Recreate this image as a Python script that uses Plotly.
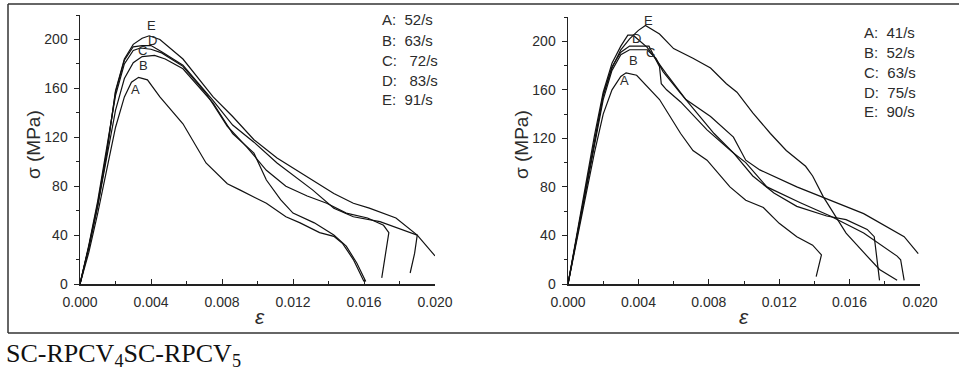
import plotly.graph_objects as go

W, H = 959, 382

# ---------------- Left panel (SC-RPCV4) ----------------
L_A_eps = [0, 0.0005, 0.001, 0.0015, 0.002, 0.0025, 0.0029, 0.0033, 0.0038, 0.0045, 0.0058, 0.0071, 0.0083, 0.0090, 0.0105, 0.0116, 0.0124, 0.0135, 0.0143, 0.0148, 0.0154, 0.0160]
L_A_sig = [0, 26, 58, 94, 128, 153, 165, 169, 167, 153, 131, 99, 82, 77, 66, 55, 50, 42, 39, 33, 20, 2]
L_B_eps = [0, 0.0005, 0.001, 0.0015, 0.002, 0.0025, 0.003, 0.0035, 0.0042, 0.0048, 0.0058, 0.0075, 0.0086, 0.0098, 0.0105, 0.0113, 0.0120, 0.0132, 0.0143, 0.0150, 0.0156, 0.0161]
L_B_sig = [0, 30, 64, 104, 142, 168, 181, 186, 187, 184, 176, 148, 123, 107, 85, 69, 58, 50, 40, 31, 17, 2]
L_C_eps = [0, 0.0005, 0.001, 0.0015, 0.002, 0.0025, 0.003, 0.0034, 0.0040, 0.0046, 0.0058, 0.0071, 0.0083, 0.0094, 0.0105, 0.0116, 0.0128, 0.0139, 0.0150, 0.0162, 0.0171, 0.0174, 0.0170]
L_C_sig = [0, 32, 68, 110, 154, 180, 191, 193, 192, 189, 178, 156, 129, 112, 93, 80, 72, 66, 58, 54, 48, 42, 5]
L_D_eps = [0, 0.0005, 0.001, 0.0015, 0.002, 0.0025, 0.003, 0.0035, 0.0040, 0.0046, 0.0058, 0.0075, 0.0086, 0.0098, 0.0111, 0.0124, 0.0131, 0.0143, 0.0154, 0.0169, 0.0190, 0.01885, 0.0186]
L_D_sig = [0, 31, 66, 108, 157, 183, 194, 195, 195, 190, 179, 150, 130, 116, 99, 85, 77, 62, 55, 51, 40, 25, 9]
L_E_eps = [0, 0.0005, 0.001, 0.0015, 0.002, 0.0025, 0.003, 0.0035, 0.0039, 0.0045, 0.0058, 0.0075, 0.0086, 0.0098, 0.0111, 0.0124, 0.0135, 0.0143, 0.0154, 0.0163, 0.0178, 0.0190, 0.0200]
L_E_sig = [0, 30, 64, 106, 158, 184, 196, 201, 203, 200, 184, 153, 137, 118, 103, 91, 81, 74, 66, 62, 54, 40, 23]

# ---------------- Right panel (SC-RPCV5) ----------------
R_A_eps = [0, 0.0005, 0.001, 0.0015, 0.002, 0.0025, 0.003, 0.0033, 0.0039, 0.0052, 0.0064, 0.0071, 0.0079, 0.0092, 0.0101, 0.0111, 0.0120, 0.0130, 0.0139, 0.0144, 0.0141]
R_A_sig = [0, 36, 72, 108, 140, 160, 171, 174, 172, 152, 124, 110, 102, 80, 69, 63, 50, 39, 32, 24, 6]
R_B_eps = [0, 0.0005, 0.001, 0.0015, 0.002, 0.0025, 0.003, 0.0035, 0.0045, 0.0050, 0.0054, 0.0064, 0.0073, 0.0083, 0.0094, 0.0105, 0.0117, 0.0130, 0.0147, 0.0158, 0.0170, 0.0174, 0.0177]
R_B_sig = [0, 38, 76, 116, 152, 176, 189, 193, 193, 186, 175, 157, 141, 124, 108, 89, 75, 64, 56, 53, 45, 39, 3]
R_C_eps = [0, 0.0005, 0.001, 0.0015, 0.002, 0.0025, 0.003, 0.0035, 0.0046, 0.0052, 0.0053, 0.0056, 0.0064, 0.0079, 0.0094, 0.0101, 0.0113, 0.0132, 0.0149, 0.0168, 0.0187, 0.0189, 0.0191]
R_C_sig = [0, 39, 79, 120, 156, 179, 191, 196, 196, 179, 165, 160, 150, 127, 108, 100, 80, 67, 56, 42, 23, 20, 3]
R_D_eps = [0, 0.0005, 0.001, 0.0015, 0.002, 0.0025, 0.003, 0.0034, 0.0037, 0.0045, 0.0056, 0.0067, 0.0081, 0.0094, 0.0101, 0.0109, 0.0130, 0.0149, 0.0168, 0.0191, 0.0199]
R_D_sig = [0, 40, 81, 122, 158, 182, 196, 205, 205, 195, 173, 152, 138, 121, 102, 94, 80, 69, 58, 39, 25]
R_E_eps = [0, 0.0005, 0.001, 0.0015, 0.002, 0.0025, 0.003, 0.0035, 0.0040, 0.0044, 0.0052, 0.0060, 0.0071, 0.0081, 0.0090, 0.0096, 0.0105, 0.0115, 0.0124, 0.0135, 0.0139, 0.0145, 0.0151, 0.0158, 0.0168, 0.0177, 0.0187]
R_E_sig = [0, 39, 78, 119, 155, 178, 193, 202, 209, 213, 206, 194, 186, 178, 165, 158, 141, 124, 110, 97, 89, 72, 58, 42, 26, 12, 3]

left_legend = ["A:\u00a0 52/s", "B:\u00a0 63/s", "C:\u00a0\u00a0 72/s", "D:\u00a0\u00a0 83/s", "E:\u00a0 91/s"]
right_legend = ["A:\u00a0 41/s", "B:\u00a0 52/s", "C:\u00a0 63/s", "D:\u00a0 75/s", "E:\u00a0 90/s"]
curve_letters = ["A", "B", "C", "D", "E"]
left_letter_pos = [(0.0031, 159), (0.0036, 179), (0.0035, 191), (0.0041, 199), (0.0040, 211)]
right_letter_pos = [(0.0032, 168), (0.0037, 184), (0.0047, 191), (0.0039, 202), (0.0046, 217)]
x_ticks = [0.000, 0.004, 0.008, 0.012, 0.016, 0.020]
y_ticks = [0, 40, 80, 120, 160, 200]
caption = "SC-RPCV<sub>4</sub>SC-RPCV<sub>5</sub>"

FONT = "Arial, Liberation Sans, sans-serif"
TXT = "#2b2b2b"

fig = go.Figure()
left = [(L_A_eps, L_A_sig), (L_B_eps, L_B_sig), (L_C_eps, L_C_sig), (L_D_eps, L_D_sig), (L_E_eps, L_E_sig)]
right = [(R_A_eps, R_A_sig), (R_B_eps, R_B_sig), (R_C_eps, R_C_sig), (R_D_eps, R_D_sig), (R_E_eps, R_E_sig)]
for ex, sy in left:
    fig.add_trace(go.Scatter(x=ex, y=sy, mode="lines", line=dict(color="#111", width=1.2),
                             xaxis="x", yaxis="y", hoverinfo="skip"))
for ex, sy in right:
    fig.add_trace(go.Scatter(x=ex, y=sy, mode="lines", line=dict(color="#111", width=1.2),
                             xaxis="x2", yaxis="y2", hoverinfo="skip"))

def px_x(p):
    return p / W

def px_y(p):
    return 1 - p / H

xcommon = dict(range=[0, 0.020], tickvals=x_ticks, tickformat=".3f", showline=True,
               linecolor="#222", linewidth=1.5, ticks="inside", ticklen=5, tickcolor="#222",
               showgrid=False, zeroline=False, tickfont=dict(family=FONT, size=14, color=TXT),
               ticklabelstandoff=5,
               minor=dict(dtick=0.002, tick0=0, ticks="inside", ticklen=3, tickcolor="#222"),
               automargin=False, fixedrange=True)
ycommon = dict(range=[0, 220], tickvals=y_ticks, showline=True, linecolor="#222", linewidth=1.5,
               ticks="outside", ticklen=5, tickcolor="#222", showgrid=False, zeroline=False,
               tickfont=dict(family=FONT, size=14, color=TXT), ticklabelstandoff=3,
               minor=dict(dtick=20, tick0=0, ticks="outside", ticklen=3, tickcolor="#222"),
               automargin=False, fixedrange=True)

fig.update_layout(
    template="none",
    width=W, height=H, autosize=False,
    margin=dict(l=0, r=0, t=0, b=0, pad=0, autoexpand=False),
    paper_bgcolor="white", plot_bgcolor="white", showlegend=False,
    xaxis=dict(domain=[px_x(80), px_x(435)], anchor="y", **xcommon),
    yaxis=dict(domain=[px_y(284), px_y(15)], anchor="x", **ycommon),
    xaxis2=dict(domain=[px_x(568), px_x(920)], anchor="y2", **xcommon),
    yaxis2=dict(domain=[px_y(284), px_y(17)], anchor="x2", **ycommon),
)

ann = []
# legends
for i, t in enumerate(left_legend):
    ann.append(dict(x=px_x(380), y=px_y(20 + 20 * i), xref="paper", yref="paper", text=t,
                    showarrow=False, xanchor="left", yanchor="middle",
                    font=dict(family=FONT, size=15, color=TXT)))
for i, t in enumerate(right_legend):
    ann.append(dict(x=px_x(862), y=px_y(33 + 19.7 * i), xref="paper", yref="paper", text=t,
                    showarrow=False, xanchor="left", yanchor="middle",
                    font=dict(family=FONT, size=15, color=TXT)))
# curve letters
for (x, y), t in zip(left_letter_pos, curve_letters):
    ann.append(dict(x=x, y=y, xref="x", yref="y", text=t, showarrow=False,
                    xanchor="center", yanchor="middle",
                    font=dict(family=FONT, size=13, color=TXT)))
for (x, y), t in zip(right_letter_pos, curve_letters):
    ann.append(dict(x=x, y=y, xref="x2", yref="y2", text=t, showarrow=False,
                    xanchor="center", yanchor="middle",
                    font=dict(family=FONT, size=13, color=TXT)))
# axis titles
for xp in (33, 521):
    ann.append(dict(x=px_x(xp), y=px_y(145), xref="paper", yref="paper", text="σ (MPa)",
                    textangle=-90, showarrow=False, xanchor="center", yanchor="middle",
                    font=dict(family=FONT, size=19, color=TXT)))
for xp in (260, 744):
    ann.append(dict(x=px_x(xp), y=px_y(316), xref="paper", yref="paper", text="<i>ε</i>",
                    showarrow=False, xanchor="center", yanchor="middle",
                    font=dict(family=FONT, size=21, color=TXT)))
# caption
ann.append(dict(x=px_x(4), y=px_y(355), xref="paper", yref="paper", text=caption,
                showarrow=False, xanchor="left", yanchor="middle",
                font=dict(family="Liberation Serif, Times New Roman, serif", size=26, color="#111")))
fig.update_layout(annotations=ann)

# frame around the figure panels (kept inside the page)
frame = dict(color="#333", width=1.5)
fig.add_shape(type="line", xref="paper", yref="paper", x0=px_x(8), x1=1.0, y0=px_y(4), y1=px_y(4), line=frame)
fig.add_shape(type="line", xref="paper", yref="paper", x0=px_x(8), x1=1.0, y0=px_y(333), y1=px_y(333), line=frame)
fig.add_shape(type="line", xref="paper", yref="paper", x0=px_x(8), x1=px_x(8), y0=px_y(4), y1=px_y(333), line=frame)

fig.write_html(
    "out.html",
    config={"displayModeBar": False, "staticPlot": True},
    post_script="document.documentElement.style.margin='0';document.body.style.margin='0';",
)
